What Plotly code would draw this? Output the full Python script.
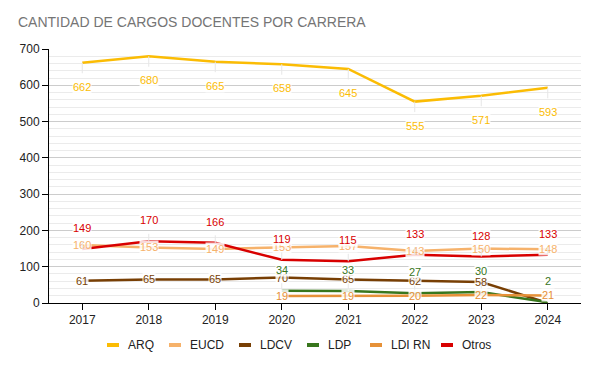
import plotly.graph_objects as go

years = [2017, 2018, 2019, 2020, 2021, 2022, 2023, 2024]
arq = [662, 680, 665, 658, 645, 555, 571, 593]
eucd = [160, 153, 149, 153, 157, 143, 150, 148]
ldcv = [61, 65, 65, 70, 65, 62, 58, 0]
ldp = [None, None, None, 34, 33, 27, 30, 2]
ldirn = [None, None, None, 19, 19, 20, 22, 21]
otros = [149, 170, 166, 119, 115, 133, 128, 133]

series = [
    ("ARQ", arq, "#FBBC04", 24),
    ("EUCD", eucd, "#F6B26B", 0),
    ("LDCV", ldcv, "#783F04", 0),
    ("LDP", ldp, "#38761D", -21),
    ("LDI RN", ldirn, "#E69138", 0),
    ("Otros", otros, "#D80000", -21),
]

FONT = "Liberation Sans, Arial, sans-serif"
W, H = 595, 367
ML, MR, MT, MB = 49, 14, 49, 64
PW, PH = W - ML - MR, H - MT - MB

fig = go.Figure()
annotations = []
shapes = []
legend_x = [107, 169, 239, 307, 370, 441]
legend_y = 345
for i, (name, vals, color, off) in enumerate(series):
    fig.add_trace(go.Scatter(x=years, y=vals, name=name, mode="lines",
                             line=dict(color=color, width=2.5), showlegend=False))
    for x, v in zip(years, vals):
        if v is None or v == 0:
            continue
        annotations.append(dict(
            x=x, y=v, xref="x", yref="y", text=str(v),
            showarrow=off != 0, ax=0, ay=off, arrowhead=0, arrowwidth=1,
            arrowcolor="#e6e6e6", standoff=0, startstandoff=7,
            font=dict(family=FONT, size=11, color=color),
            bgcolor="rgba(255,255,255,0.85)", borderpad=0,
        ))
    # custom legend entry
    lx = (legend_x[i] - ML) / PW
    ly = (H - MB - legend_y) / PH
    shapes.append(dict(type="rect", xref="paper", yref="paper",
                       x0=lx, x1=lx + 12 / PW, y0=ly - 2 / PH, y1=ly + 2 / PH,
                       fillcolor=color, line=dict(width=0)))
    annotations.append(dict(x=lx + 19 / PW, y=ly, xref="paper", yref="paper",
                            text=name, showarrow=False, xanchor="left", yanchor="middle",
                            font=dict(family=FONT, size=12, color="#222222")))

fig.update_layout(
    width=W, height=H,
    margin=dict(l=ML, r=MR, t=MT, b=MB),
    paper_bgcolor="white", plot_bgcolor="white",
    font=dict(family=FONT, size=12, color="#222222"),
    title=dict(text="CANTIDAD DE CARGOS DOCENTES POR CARRERA",
               x=18 / W, xanchor="left", y=1 - 22 / H, yanchor="middle",
               font=dict(family=FONT, size=14, color="#757575")),
    showlegend=False,
    annotations=annotations,
    shapes=shapes,
)
fig.update_xaxes(range=[2016.5, 2024.5], tickvals=years, ticktext=[str(y) for y in years],
                 showgrid=False, showline=True, linecolor="#000000", linewidth=1,
                 ticks="outside", ticklen=6, tickcolor="#000000", zeroline=False,
                 tickfont=dict(size=12, color="#222222"))
fig.update_yaxes(range=[0, 700], dtick=100, showgrid=True, gridcolor="#cccccc",
                 showline=True, linecolor="#000000", linewidth=1,
                 ticks="outside", ticklen=6, tickcolor="#000000", zeroline=False,
                 tickfont=dict(size=12, color="#222222"),
                 minor=dict(dtick=20, showgrid=True, gridcolor="#ebebeb"))

fig.write_html("out.html", config={"displayModeBar": False},
               post_script="document.body.style.margin='0';document.body.style.overflow='hidden';")
